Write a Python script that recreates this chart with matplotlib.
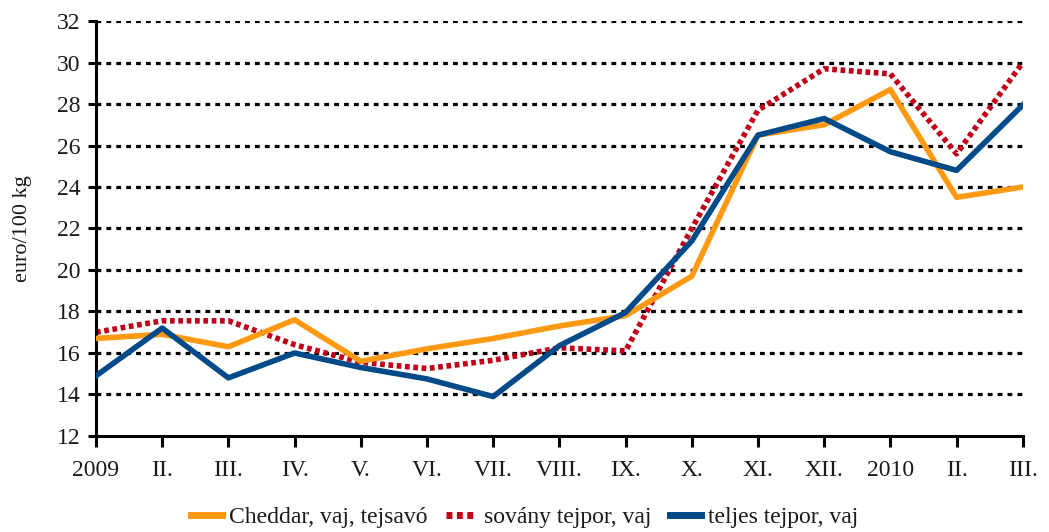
import matplotlib
matplotlib.use("Agg")
import matplotlib.pyplot as plt

plt.rcParams['font.family'] = ['Liberation Serif', 'DejaVu Serif']

months = ["2009", "II.", "III.", "IV.", "V.", "VI.", "VII.", "VIII.", "IX.",
          "X.", "XI.", "XII.", "2010", "II.", "III."]

cheddar = [16.7, 16.9, 16.3, 17.6, 15.6, 16.2, 16.7, 17.3, 17.8,
           19.7, 26.5, 27.0, 28.7, 23.5, 24.0]
sovany = [17.0, 17.55, 17.55, 16.4, 15.55, 15.25, 15.65, 16.25, 16.1,
          22.0, 27.7, 29.7, 29.45, 25.6, 30.0]
teljes = [14.9, 17.2, 14.8, 16.0, 15.3, 14.75, 13.9, 16.35, 17.95,
          21.4, 26.5, 27.3, 25.7, 24.8, 27.95]

x = list(range(len(months)))

fig = plt.figure(figsize=(10.49, 5.32), dpi=100)
ax = fig.add_axes([0.0915, 0.1805, 0.8835, 0.78])

# dotted gridlines, drawn below the series
for v in range(14, 33, 2):
    ax.axhline(v, color='black', lw=2.3, ls=(0, (1.5, 1.6)), zorder=1)

ax.plot(x, cheddar, color='#FF9912', lw=4, label='Cheddar, vaj, tejsavó', zorder=3)
ax.plot(x, sovany, color='#C00018', lw=4, ls=(0, (0.85, 0.65)),
        label='sovány tejpor, vaj', zorder=2)
ax.plot(x, teljes, color='#004A8A', lw=4, label='teljes tejpor, vaj', zorder=4)

ax.set_xlim(0, len(months) - 1)
ax.set_ylim(12, 32)
ax.set_yticks(range(12, 33, 2))
ax.set_xticks(x)
ax.set_xticklabels(months)

for s in ['top', 'right']:
    ax.spines[s].set_visible(False)
ax.spines['left'].set_linewidth(2.2)
ax.spines['bottom'].set_linewidth(2.2)
ax.tick_params(axis='x', length=8, width=2.2, pad=9, labelsize=17,
               colors='black', labelcolor='#1a1a1a')
ax.tick_params(axis='y', length=6, width=2.2, pad=5, labelsize=17,
               colors='black', labelcolor='#1a1a1a')

ax.set_ylabel('euro/100 kg', fontsize=16, labelpad=18, color='#1a1a1a')

leg = fig.legend(*ax.get_legend_handles_labels(), loc='center',
                 bbox_to_anchor=(0.5, 0.028), ncol=3,
                 frameon=False, fontsize=17, handlelength=1.3, handletextpad=0.3,
                 columnspacing=0.8, borderpad=0.1)
for line in leg.get_lines():
    line.set_linewidth(5)
for t in leg.get_texts():
    t.set_color('#1a1a1a')

fig.savefig('out.png', dpi=100)
